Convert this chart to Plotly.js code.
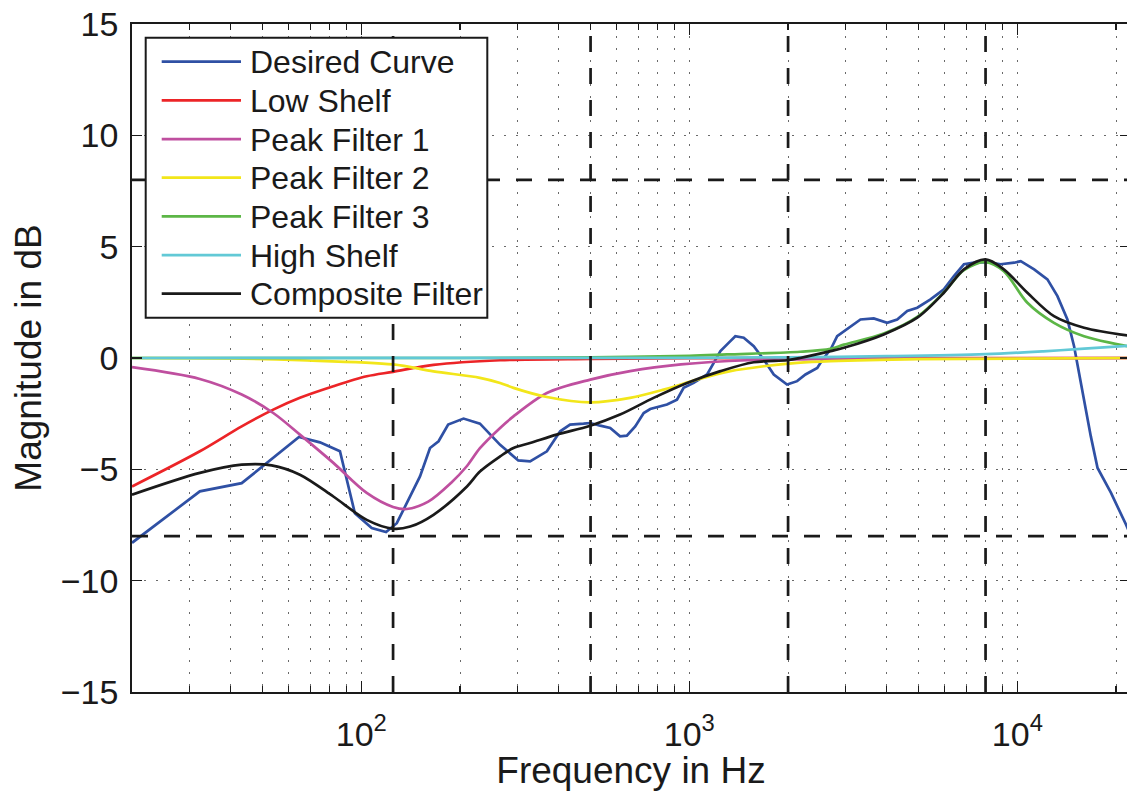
<!DOCTYPE html>
<html>
<head>
<meta charset="utf-8">
<script src="https://cdn.plot.ly/plotly-3.0.1.min.js"></script>
<style>
html,body{margin:0;padding:0;overflow:hidden;background:#ffffff;}
#chart{width:1130px;height:791px;}
</style>
</head>
<body>
<div id="chart"></div>
<script>
// ---------- data ----------
const seriesNames = ["Desired Curve","Low Shelf","Peak Filter 1","Peak Filter 2","Peak Filter 3","High Shelf","Composite Filter"];
const seriesColors = ["#2f50a4","#ec2427","#bf4f9f","#f2e61a","#5cb646","#62c9d6","#1a1a1a"];

const desiredFreq = [20,32.2,43.2,64.6,74.8,86.1,95.6,107.6,119,128.3,151,162,172,184,205,230,265,301,327,368,404,433,476,499,535,574,615,645,684,726,760,797,855,917,961,1031,1133,1187,1244,1334,1381,1465,1572,1686,1809,1986,2131,2260,2455,2540,2700,2823,3101,3325,3650,4010,4302,4617,4953,5436,5970,6407,6873,7375,8104,8895,9777,10240,11250,12350,13250,14210,14890,15800,16750,17560,19300,21450,22050];
const desiredDb   = [-8.3,-5.99,-5.62,-3.55,-3.79,-4.19,-6.97,-7.64,-7.82,-7.42,-5.32,-4.04,-3.74,-2.99,-2.72,-2.95,-3.9,-4.6,-4.64,-4.19,-3.29,-2.99,-2.95,-2.92,-3.04,-3.14,-3.52,-3.49,-3.07,-2.47,-2.29,-2.2,-2.09,-1.87,-1.34,-1.12,-0.74,-0.22,0.31,0.76,0.98,0.91,0.53,-0.07,-0.74,-1.19,-1.04,-0.74,-0.45,-0.1,0.4,0.98,1.43,1.73,1.78,1.58,1.73,2.11,2.26,2.63,3.08,3.68,4.21,4.28,4.31,4.21,4.28,4.35,3.98,3.53,2.78,1.73,0.53,-1.57,-3.52,-4.94,-6.06,-7.49,-7.9];

const lowShelfFreq = [20,32.2,43.2,53.9,65,82.2,103.9,125,166,265,499,1000,22050];
const lowShelfDb   = [-5.77,-4.19,-3.07,-2.32,-1.79,-1.27,-0.82,-0.62,-0.31,-0.1,-0.04,-0.01,0];

const peak1Freq = [20,32.2,43.2,53.9,65,82.2,103.9,125,137.6,160,188,210,230,265,291,368,499,660,943,1503,2694,22050];
const peak1Db   = [-0.41,-0.94,-1.64,-2.47,-3.44,-4.71,-6.06,-6.69,-6.78,-6.45,-5.6,-4.85,-4.05,-3.14,-2.62,-1.57,-0.97,-0.59,-0.29,-0.1,-0.04,0];

const peak2Freq = [20,40,65,125,166,230,265,291,368,499,660,835,1055,1334,1686,2131,2694,5000,22050];
const peak2Db   = [0,-0.02,-0.1,-0.29,-0.6,-0.89,-1.12,-1.34,-1.75,-1.99,-1.79,-1.42,-0.97,-0.59,-0.37,-0.22,-0.14,-0.05,0];

const peak3Freq = [20,200,500,1000,1303,2178,2694,2959,3915,4953,5970,6873,8000,9094,10730,12930,15970,21720,22050];
const peak3Db   = [0,0,0.03,0.1,0.16,0.28,0.41,0.6,1.1,1.85,2.95,3.95,4.31,3.9,2.48,1.58,0.98,0.53,0.52];

const highShelfFreq = [20,1000,2000,4000,8000,12000,16000,22050];
const highShelfDb   = [0,0.01,0.03,0.08,0.17,0.3,0.42,0.55];

const compositeFreq = [20,32.2,43.2,53.3,65,82.2,103.9,125.3,141,166,210,230,265,291,327,394,499,615,778,984,1244,1572,1986,2178,2694,2959,3915,4953,5970,6873,8000,9094,10730,12930,15970,21720,22050];
const compositeDb   = [-6.14,-5.16,-4.79,-4.82,-5.24,-6.22,-7.27,-7.67,-7.57,-7.04,-5.77,-5.1,-4.42,-4.04,-3.82,-3.44,-3.04,-2.54,-1.79,-1.12,-0.59,-0.19,-0.1,0.0,0.31,0.46,1.06,1.81,2.93,3.98,4.43,3.98,2.93,1.88,1.36,1.01,1.0];

const markerFreqs = [125,500,2000,8000];   // vertical dashed reference lines (Hz)
const markerLevels = [8,-8];               // horizontal dashed reference lines (dB)

const xMajorTicks = [100,1000,10000];
const xMajorText = ["10<sup>2</sup>","10<sup>3</sup>","10<sup>4</sup>"];
const xMinorTicks = [20,30,40,50,60,70,80,90,200,300,400,500,600,700,800,900,2000,3000,4000,5000,6000,7000,8000,9000,20000];
const yTicks = [-15,-10,-5,0,5,10,15];
const yTickText = ["\u221215","\u221210","\u22125","0","5","10","15"];

const xTitle = "Frequency in Hz";
const yTitle = "Magnitude in dB";

// ---------- figure ----------
const FONT = "'Liberation Sans', Arial, Helvetica, sans-serif";
const INK = "#1a1a1a";
const GRID = "#6a6a6a";
const GRIDDASH = "2px,10px";

const W = 1130, H = 791;
const M = {l:132, r:0, t:24, b:99};
const plotW = W - M.l - M.r, plotH = H - M.t - M.b;
const px2x = px => (px - M.l) / plotW;
const px2y = py => (H - M.b - py) / plotH;

const curveData = [
  [desiredFreq, desiredDb, "linear"],
  [lowShelfFreq, lowShelfDb, "spline"],
  [peak1Freq, peak1Db, "spline"],
  [peak2Freq, peak2Db, "spline"],
  [peak3Freq, peak3Db, "spline"],
  [highShelfFreq, highShelfDb, "spline"],
  [compositeFreq, compositeDb, "spline"]
];

const traces = curveData.map((c, i) => ({
  type: "scatter", mode: "lines", name: seriesNames[i],
  x: c[0], y: c[1],
  line: {color: seriesColors[i], width: 2.7, shape: c[2], smoothing: 0.9},
  showlegend: false, hoverinfo: "skip"
}));

markerFreqs.forEach(f => traces.push({
  type: "scatter", mode: "lines", x: [f, f], y: [-15, 15],
  line: {color: INK, width: 2.7, dash: "16px,16px"}, showlegend: false, hoverinfo: "skip"
}));
markerLevels.forEach(v => traces.push({
  type: "scatter", mode: "lines", x: [20, 22050], y: [v, v],
  line: {color: INK, width: 2.7, dash: "16px,16px"}, showlegend: false, hoverinfo: "skip"
}));

// custom legend (box, line samples, labels)
const legBox = {x0: 145.7, x1: 487.3, y0: 37.7, y1: 317.7};
const rowY0 = 61.7, rowStep = 38.67;
const shapes = [{
  type: "rect", xref: "paper", yref: "paper", layer: "above",
  x0: px2x(legBox.x0), x1: px2x(legBox.x1), y0: px2y(legBox.y1), y1: px2y(legBox.y0),
  fillcolor: "#ffffff", line: {color: INK, width: 2}
}];
const annotations = [];
seriesNames.forEach((name, i) => {
  const cy = rowY0 + i * rowStep;
  shapes.push({
    type: "line", xref: "paper", yref: "paper", layer: "above",
    x0: px2x(161.7), x1: px2x(241), y0: px2y(cy), y1: px2y(cy),
    line: {color: seriesColors[i], width: 2.7}
  });
  annotations.push({
    xref: "paper", yref: "paper", x: px2x(247.5), y: px2y(cy + 0.5),
    xanchor: "left", yanchor: "middle", showarrow: false, text: name,
    font: {family: FONT, size: 32, color: INK}
  });
});

const layout = {
  width: W, height: H,
  margin: M,
  paper_bgcolor: "#ffffff", plot_bgcolor: "#ffffff",
  font: {family: FONT, size: 33, color: INK},
  showlegend: false,
  xaxis: {
    type: "log", range: [Math.log10(20), Math.log10(22050)],
    tickmode: "array", tickvals: xMajorTicks, ticktext: xMajorText,
    ticks: "inside", ticklen: 11, tickwidth: 1.5, tickcolor: INK,
    showline: true, linewidth: 1.8, linecolor: INK, mirror: "ticks",
    showgrid: true, gridcolor: GRID, gridwidth: 1, griddash: GRIDDASH,
    zeroline: false, ticklabelstandoff: 11,
    tickfont: {family: FONT, size: 34, color: INK},
    minor: {tickmode: "array", tickvals: xMinorTicks, ticks: "inside", ticklen: 6, tickwidth: 1.2, tickcolor: INK,
            showgrid: true, gridcolor: GRID, gridwidth: 1, griddash: GRIDDASH},
    title: {text: xTitle, font: {family: FONT, size: 37, color: INK}, standoff: 2},
    automargin: false, fixedrange: true
  },
  yaxis: {
    range: [-15, 15], tickmode: "array", tickvals: yTicks, ticktext: yTickText,
    ticks: "inside", ticklen: 10, tickwidth: 1.5, tickcolor: INK,
    showline: true, linewidth: 1.8, linecolor: INK, mirror: "ticks",
    showgrid: true, gridcolor: GRID, gridwidth: 1, griddash: GRIDDASH,
    zeroline: false, ticklabelstandoff: 5,
    tickfont: {family: FONT, size: 34, color: INK},
    title: {text: yTitle, font: {family: FONT, size: 37, color: INK}, standoff: 8},
    automargin: false, fixedrange: true
  },
  shapes: shapes,
  annotations: annotations
};

Plotly.newPlot("chart", traces, layout, {staticPlot: true, displayModeBar: false});
</script>
</body>
</html>
